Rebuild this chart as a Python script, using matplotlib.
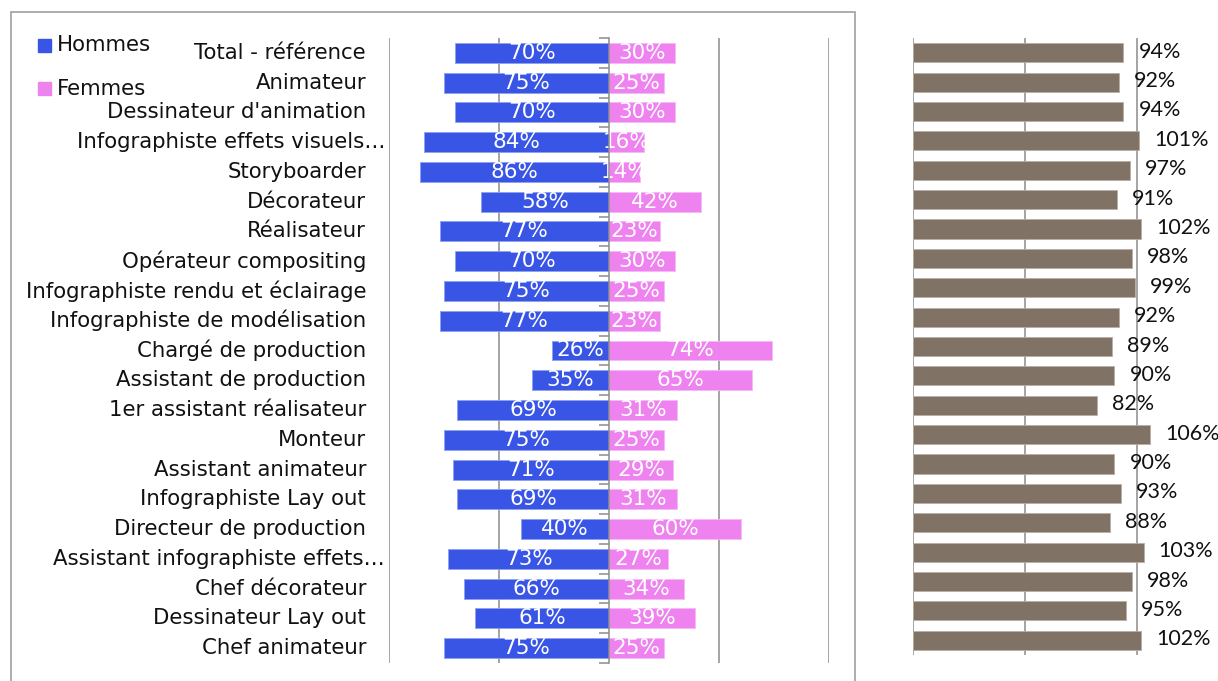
import matplotlib
matplotlib.use("Agg")
import matplotlib.pyplot as plt
from matplotlib.patches import Rectangle
from matplotlib.transforms import blended_transform_factory

# data
metiers = ["Total - référence", "Animateur", "Dessinateur d'animation",
           "Infographiste effets visuels…", "Storyboarder", "Décorateur",
           "Réalisateur", "Opérateur compositing",
           "Infographiste rendu et éclairage", "Infographiste de modélisation",
           "Chargé de production", "Assistant de production",
           "1er assistant réalisateur", "Monteur", "Assistant animateur",
           "Infographiste Lay out", "Directeur de production",
           "Assistant infographiste effets…", "Chef décorateur",
           "Dessinateur Lay out", "Chef animateur"]
hommes = [70, 75, 70, 84, 86, 58, 77, 70, 75, 77, 26, 35, 69, 75, 71, 69, 40, 73, 66, 61, 75]
femmes = [30, 25, 30, 16, 14, 42, 23, 30, 25, 23, 74, 65, 31, 25, 29, 31, 60, 27, 34, 39, 25]
indice = [94, 92, 94, 101, 97, 91, 102, 98, 99, 92, 89, 90, 82, 106, 90, 93, 88, 103, 98, 95, 102]

bleu = "#3955e6"
rose = "#ee82ee"
brun = "#807366"
gris = "#8c8c8c"

plt.rcParams["font.family"] = "DejaVu Sans"

W, H = 1218, 681
fig = plt.figure(figsize=(W / 100, H / 100), dpi=100)

# frame around left chart
fig.patches.append(Rectangle((11 / W, -0.01), (855 - 11) / W, 1 - 12 / H + 0.01,
                             transform=fig.transFigure, fill=False,
                             edgecolor="#a0a0a0", linewidth=1.2))

n = len(metiers)
y = list(range(n))

# left: diverging bars
ax = fig.add_axes([389 / W, 1 - 663 / H, 440 / W, 625 / H])
ax.set_xlim(-1, 1)
ax.set_ylim(n - 0.5, -0.5)
for g in [-1, -0.5, 0.5, 1]:
    ax.axvline(g, color=gris, linewidth=1.1, zorder=0)
h = [-v / 100 for v in hommes]
f = [v / 100 for v in femmes]
ax.barh(y, h, height=0.67, color=bleu, edgecolor="#8fa0f0", linewidth=0.6, zorder=2)
ax.barh(y, f, height=0.67, color=rose, edgecolor="#f6b8f6", linewidth=0.6, zorder=2)
for i in y:
    ax.text(h[i] / 2, i, f"{hommes[i]}%", color="white", fontsize=15.5,
            ha="center", va="center", zorder=3)
    ax.text(f[i] / 2, i, f"{femmes[i]}%", color="white", fontsize=15.5,
            ha="center", va="center", zorder=3)

for s in ["top", "right", "bottom"]:
    ax.spines[s].set_visible(False)
ax.spines["left"].set_position(("data", 0))
ax.spines["left"].set_color(gris)
ax.spines["left"].set_linewidth(1.1)
ax.spines["left"].set_zorder(4)
ax.set_xticks([])
ax.set_yticks([i - 0.5 for i in range(n + 1)])
ax.set_yticklabels([])
ax.tick_params(axis="y", direction="out", length=7, width=1.1, color=gris)

tr = blended_transform_factory(ax.transAxes, ax.transData)
for i, m in enumerate(metiers):
    x = -0.052 if not m.endswith("…") else -0.009
    ax.text(x, i, m, transform=tr, ha="right", va="center",
            fontsize=15.3, color="#111111")

# legend
fig.patches.append(Rectangle((38 / W, 1 - 52 / H), 13 / W, 13 / H,
                             transform=fig.transFigure, color=bleu))
fig.patches.append(Rectangle((38 / W, 1 - 95 / H), 13 / W, 13 / H,
                             transform=fig.transFigure, color=rose))
fig.text(57 / W, 1 - 45 / H, "Hommes", fontsize=15.3, va="center", color="#111111")
fig.text(57 / W, 1 - 89 / H, "Femmes", fontsize=15.3, va="center", color="#111111")

# right: ratio bars
ax2 = fig.add_axes([913 / W, 1 - 655 / H, 291 / W, 617 / H])
ax2.set_xlim(0, 1.3)
ax2.set_ylim(n - 0.5, -0.5)
for g in [0, 0.5, 1]:
    ax2.axvline(g, color=gris, linewidth=1.1, zorder=0)
v = [p / 100 for p in indice]
ax2.barh(y, v, height=0.65, color=brun, edgecolor="#b8aea4", linewidth=0.6, zorder=2)
for i in y:
    ax2.annotate(f"{indice[i]}%", (v[i], i), xytext=(15, 1), textcoords="offset pixels",
                 ha="left", va="center", fontsize=15.5, family="Lato", color="#111111")
ax2.axis("off")

fig.savefig("out.png", dpi=100)
